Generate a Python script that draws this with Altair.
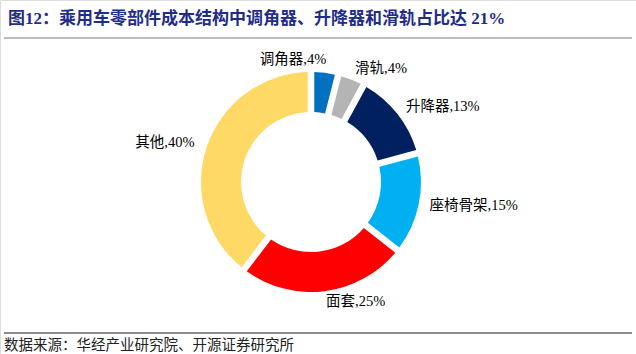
import altair as alt
import pandas as pd
import math

categories = ["调角器", "滑轨", "升降器", "座椅骨架", "面套", "其他"]
values = [4, 4, 13, 15, 25, 40]
colors = ["#0070C0", "#B4B4B4", "#002060", "#00B0F0", "#FF0000", "#FFD966"]
title_text = "图12：乘用车零部件成本结构中调角器、升降器和滑轨占比达 21%"
source_text = "数据来源：华经产业研究院、开源证券研究所"
right_side = ["调角器", "其他"]

FONT = "Liberation Serif, Noto Sans CJK SC"

df = pd.DataFrame({
    "cat": categories,
    "value": values,
    "idx": list(range(len(categories))),
})
df["label"] = [f"{c},{v}%" for c, v in zip(categories, values)]

CX, CY = 311, 182
total = sum(values)
theta_scale = alt.Scale(domain=[0, total], range=[0, 2 * math.pi])

base = alt.Chart(df).transform_window(
    cum="sum(value)", sort=[alt.SortField("idx")], frame=[None, 0]
).transform_calculate(
    start="datum.cum - datum.value",
    mid="datum.cum - datum.value / 2",
).encode(
    x=alt.value(CX),
    y=alt.value(CY),
)

arcs = base.mark_arc(innerRadius=70, outerRadius=110, padAngle=0.05).encode(
    theta=alt.Theta("start:Q", scale=theta_scale),
    theta2="cum:Q",
    color=alt.Color("cat:N", scale=alt.Scale(domain=categories, range=colors), legend=None),
)

labels_left = base.mark_text(
    align="left", baseline="middle", fontSize=14.5, font=FONT, color="#000000"
).encode(
    theta=alt.Theta("mid:Q", scale=theta_scale),
    radius=alt.value(121), text="label:N"
).transform_filter(
    alt.FieldOneOfPredicate(field="cat", oneOf=[c for c in categories if c not in right_side])
)

labels_right = base.mark_text(
    align="right", baseline="middle", fontSize=14.5, font=FONT, color="#000000"
).encode(
    theta=alt.Theta("mid:Q", scale=theta_scale),
    radius=alt.value(123), text="label:N"
).transform_filter(
    alt.FieldOneOfPredicate(field="cat", oneOf=right_side)
)

one = pd.DataFrame({"t": [title_text], "s": [source_text]})

title = alt.Chart(one).mark_text(
    align="left", baseline="middle", fontSize=17, fontWeight="bold", font=FONT, color="#1F2C8A"
).encode(x=alt.value(8), y=alt.value(19), text="t:N")

source = alt.Chart(one).mark_text(
    align="left", baseline="middle", fontSize=14.5, font=FONT, color="#222222"
).encode(x=alt.value(4), y=alt.value(346), text="s:N")

top_rule = alt.Chart(one).mark_rule(color="#7F7F7F", strokeWidth=1.2).encode(
    x=alt.value(4), x2=alt.value(632), y=alt.value(38)
)
bottom_rule = alt.Chart(one).mark_rule(color="#8C8C8C", strokeWidth=2).encode(
    x=alt.value(4), x2=alt.value(632), y=alt.value(333)
)

chart = alt.layer(arcs, labels_left, labels_right, title, source, top_rule, bottom_rule).properties(
    width=636, height=354, padding=0, autosize=alt.AutoSizeParams(type="none")
).configure_view(stroke=None).configure(background="white")

chart.save("out.html", embed_options={"renderer": "svg", "actions": False})
